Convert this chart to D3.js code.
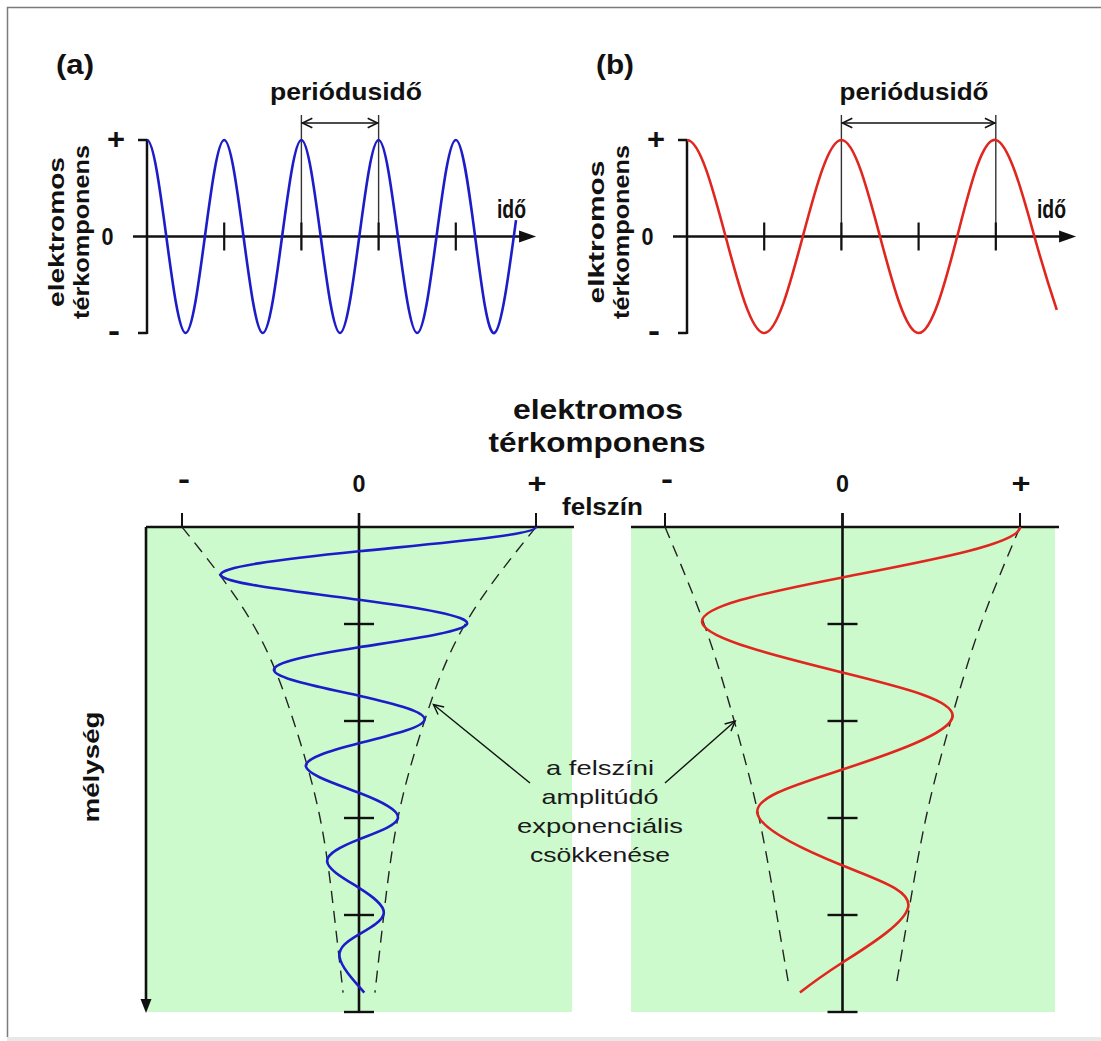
<!DOCTYPE html>
<html>
<head>
<meta charset="utf-8">
<script src="https://cdn.jsdelivr.net/npm/d3@7"></script>
<style>
  body { margin: 0; background: #fff; }
  svg { display: block; }
</style>
</head>
<body>
<div id="chart"></div>
<script>
// ---- top panels: field vs. time (time in tick units, field from -1 to +1)
const timeTicks = [1, 2, 3, 4];
const fieldLevels = [1, 0, -1];
const fieldLabels = ["+", "0", "-"];

const timeA = [0, 0.25, 0.5, 0.75, 1, 1.25, 1.5, 1.75, 2, 2.25, 2.5, 2.75, 3, 3.25, 3.5, 3.75, 4, 4.25, 4.5, 4.78];
const fieldA = [1, 0, -1, 0, 1, 0, -1, 0, 1, 0, -1, 0, 1, 0, -1, 0, 1, 0, -1, 0.17];
const periodA = [2, 3];

const timeB = [0, 0.5, 1, 1.5, 2, 2.5, 3, 3.5, 4, 4.5, 4.79];
const fieldB = [1, 0, -1, 0, 1, 0, -1, 0, 1, 0, -0.76];
const periodB = [2, 4];

// ---- bottom panels: field vs. depth (depth in tick units)
const depthTicks = [1, 2, 3, 4, 5];
const ampLevels = [-1, 0, 1];
const ampLabels = ["-", "0", "+"];

const depthBlue = [0, 0.25, 0.5, 0.75, 1.0, 1.24, 1.48, 1.74, 1.99, 2.23, 2.47, 2.74, 3.0, 3.22, 3.45, 3.72, 3.98, 4.2, 4.43, 4.8];
const fieldBlue = [1, 0, -0.78, 0, 0.61, 0, -0.48, 0, 0.37, 0, -0.30, 0, 0.22, 0, -0.18, 0, 0.14, 0, -0.11, 0.03];
const envDepthBlue = [0, 1, 2, 3, 4, 4.8];
const envBlue = [1, 0.6, 0.37, 0.22, 0.14, 0.09];

const depthRed = [0, 0.52, 0.99, 1.5, 1.96, 2.5, 2.95, 3.49, 3.92, 4.49, 4.8];
const fieldRed = [1, 0, -0.79, 0, 0.62, 0, -0.48, 0, 0.37, 0, -0.24];
const envDepthRed = [0, 1, 2, 3, 4, 4.75];
const envRed = [1, 0.78, 0.61, 0.47, 0.37, 0.3];

const noteLines = ["a felszíni", "amplitúdó", "exponenciális", "csökkenése"];

const W = 1101, H = 1041;
const BLUE = "#1c1cc8", RED = "#e0261f", GREEN = "#cdfacd", INK = "#111";

const svg = d3.select("#chart").append("svg")
    .attr("width", W)
    .attr("height", H)
    .style("font-family", "Arial, 'Liberation Sans', sans-serif");

svg.append("rect").attr("width", W).attr("height", H).attr("fill", "#fff");

// frame of the original picture
svg.append("path")
    .attr("d", `M7.5,${H - 4} V7.5 H${W}`)
    .attr("fill", "none")
    .attr("stroke", "#7a7a7a")
    .attr("stroke-width", 1.5);
svg.append("rect")
    .attr("x", 7).attr("y", 1037)
    .attr("width", W - 7).attr("height", 4)
    .attr("fill", "#e8e8e8");

// spline slopes (parametrised by index); "flat" forces a zero slope at the first point
function splineSlopes(v, flat) {
    const n = v.length;
    const a = new Array(n).fill(1), b = new Array(n).fill(4), c = new Array(n).fill(1), r = new Array(n);
    for (let i = 1; i < n - 1; i++) r[i] = 3 * (v[i + 1] - v[i - 1]);
    if (flat) { b[0] = 1; c[0] = 0; r[0] = 0; }
    else { b[0] = 2; c[0] = 1; r[0] = 3 * (v[1] - v[0]); }
    b[n - 1] = 2; r[n - 1] = 3 * (v[n - 1] - v[n - 2]);
    for (let i = 1; i < n; i++) {
        const w = a[i] / b[i - 1];
        b[i] -= w * c[i - 1];
        r[i] -= w * r[i - 1];
    }
    const m = new Array(n);
    m[n - 1] = r[n - 1] / b[n - 1];
    for (let i = n - 2; i >= 0; i--) m[i] = (r[i] - c[i] * m[i + 1]) / b[i];
    return m;
}

// natural spline curve whose value coordinate starts at a crest (flat tangent)
function crestStart(flatAxis) {
    return function(context) {
        let xs, ys;
        return {
            areaStart() {}, areaEnd() {},
            lineStart() { xs = []; ys = []; },
            point(x, y) { xs.push(+x); ys.push(+y); },
            lineEnd() {
                const n = xs.length;
                const mx = splineSlopes(xs, flatAxis === "x");
                const my = splineSlopes(ys, flatAxis === "y");
                context.moveTo(xs[0], ys[0]);
                for (let i = 0; i < n - 1; i++) {
                    context.bezierCurveTo(
                        xs[i] + mx[i] / 3, ys[i] + my[i] / 3,
                        xs[i + 1] - mx[i + 1] / 3, ys[i + 1] - my[i + 1] / 3,
                        xs[i + 1], ys[i + 1]);
                }
            }
        };
    };
}

function addText(g, str, x, y, size, len, opts = {}) {
    const t = g.append("text")
        .attr("x", x)
        .attr("y", y)
        .attr("font-size", size)
        .attr("font-weight", opts.weight || "bold")
        .attr("text-anchor", opts.anchor || "middle")
        .attr("fill", opts.fill || INK)
        .text(str);
    if (len) t.attr("textLength", len).attr("lengthAdjust", "spacingAndGlyphs");
    if (opts.rotate) t.attr("transform", `rotate(-90,${x},${y})`);
    return t;
}

function seg(g, x1, y1, x2, y2, w, color) {
    return g.append("line")
        .attr("x1", x1).attr("y1", y1)
        .attr("x2", x2).attr("y2", y2)
        .attr("stroke", color || INK)
        .attr("stroke-width", w);
}

// open "V" arrow head at (tx,ty), coming from (fx,fy)
function openHead(g, fx, fy, tx, ty, len, w) {
    const a = Math.atan2(ty - fy, tx - fx);
    const spread = 0.45;
    const p = [a - Math.PI + spread, a - Math.PI - spread].map(b => [tx + len * Math.cos(b), ty + len * Math.sin(b)]);
    g.append("path")
        .attr("d", `M${p[0][0]},${p[0][1]} L${tx},${ty} L${p[1][0]},${p[1][1]}`)
        .attr("fill", "none")
        .attr("stroke", INK)
        .attr("stroke-width", w);
}

// filled arrow head, dir: "right" or "down"
function filledHead(g, tx, ty, dir, len, half) {
    const pts = dir === "right"
        ? [[tx, ty], [tx - len, ty - half], [tx - len, ty + half]]
        : [[tx, ty], [tx - half, ty - len], [tx + half, ty - len]];
    g.append("polygon")
        .attr("points", pts.map(p => p.join(",")).join(" "))
        .attr("fill", INK);
}

function timePanel(opt) {
    const g = svg.append("g");
    const x = d3.scaleLinear().domain([0, 5]).range([opt.x0, opt.x0 + 386]);
    const y = d3.scaleLinear().domain([-1, 1]).range([333, 140]);
    const ax = x(0);

    // period markers
    opt.period.forEach(t => seg(g, x(t), 115, x(t), y(0) + 13, 1.4, "#333"));
    seg(g, x(opt.period[0]) + 1, 123, x(opt.period[1]) - 1, 123, 1.5);
    openHead(g, x(opt.period[1]), 123, x(opt.period[0]) + 1, 123, 11, 1.5);
    openHead(g, x(opt.period[0]), 123, x(opt.period[1]) - 1, 123, 11, 1.5);

    // field axis
    seg(g, ax, y(1) - 1, ax, y(-1) + 1, 2.5);
    [1, -1].forEach(v => seg(g, ax - 9, y(v), ax, y(v), 2.5));

    // time axis
    const xEnd = x(5.04);
    seg(g, ax - 14, y(0), xEnd - 8, y(0), 2.6);
    filledHead(g, xEnd, y(0), "right", 17, 6);
    timeTicks.forEach(t => seg(g, x(t), y(0) - 14, x(t), y(0) + 14, 2.2));

    // wave
    const line = d3.line()
        .x((d, i) => x(opt.time[i]))
        .y(d => y(d))
        .curve(crestStart("y"));
    g.append("path")
        .attr("d", line(opt.field))
        .attr("fill", "none")
        .attr("stroke", opt.color)
        .attr("stroke-width", 2.6);

    // labels
    addText(g, opt.tag, ax - 91, 74, 27, 38, { anchor: "start" });
    addText(g, "periódusidő", opt.periodLabelX, 100, 24, opt.periodLabelLen);
    addText(g, "idő", ax + 350, 218, 25, 29, { anchor: "start" });
    addText(g, opt.yLabel[0], ax - 83, 232, 22, opt.yLabelLen[0], { rotate: true });
    addText(g, opt.yLabel[1], ax - 58, 232, 22, opt.yLabelLen[1], { rotate: true });

    const lab = [
        { dx: -31, dy: 9, size: 29, len: 18 },
        { dx: -39.5, dy: 8, size: 23, len: 12 },
        { dx: -33, dy: 8, size: 32, len: 12 }
    ];
    fieldLevels.forEach((v, i) => {
        addText(g, fieldLabels[i], ax + lab[i].dx, y(v) + lab[i].dy, lab[i].size, lab[i].len);
    });
}

function depthPanel(opt) {
    const g = svg.append("g");
    const x = d3.scaleLinear().domain([-1, 1]).range(opt.ampRange);
    const y = d3.scaleLinear().domain([0, 5]).range([527, 1012]);
    const zx = x(0);

    g.append("rect")
        .attr("x", opt.left).attr("y", y(0))
        .attr("width", opt.right - opt.left)
        .attr("height", y(5) - y(0))
        .attr("fill", GREEN);

    // surface line and amplitude ticks
    seg(g, opt.left, y(0), opt.lineRight, y(0), 2.6);
    ampLevels.forEach(v => seg(g, x(v), y(0) - 14, x(v), y(0), 2));

    // zero axis with depth ticks
    seg(g, zx, y(0) - 14, zx, y(5), 2.6);
    depthTicks.forEach(d => seg(g, zx - 15, y(d), zx + 15, y(d), 2.4));

    // exponential envelope
    [1, -1].forEach(s => {
        const env = d3.line()
            .x(d => x(s * d))
            .y((d, i) => y(opt.envDepth[i]))
            .curve(d3.curveNatural);
        g.append("path")
            .attr("d", env(opt.env))
            .attr("fill", "none")
            .attr("stroke", "#222")
            .attr("stroke-width", 1.4)
            .attr("stroke-dasharray", "12,8");
    });

    // wave
    const wave = d3.line()
        .x(d => x(d))
        .y((d, i) => y(opt.depth[i]))
        .curve(crestStart("x"));
    g.append("path")
        .attr("d", wave(opt.field))
        .attr("fill", "none")
        .attr("stroke", opt.color)
        .attr("stroke-width", 2.6);

    // amplitude labels
    const lab = [
        { dx: 2, base: 489, size: 30, len: 12 },
        { dx: 0, base: 492, size: 24, len: 13 },
        { dx: 1, base: 493, size: 28, len: 19 }
    ];
    ampLevels.forEach((v, i) => {
        addText(g, ampLabels[i], x(v) + lab[i].dx, lab[i].base, lab[i].size, lab[i].len);
    });

    if (opt.depthAxis) {
        seg(g, opt.left, y(0), opt.left, y(5) - 10, 2.6);
        filledHead(g, opt.left, y(5) + 1, "down", 14, 5.5);
    }

    return { x, y };
}

timePanel({
    x0: 147, time: timeA, field: fieldA, period: periodA, color: BLUE,
    tag: "(a)", periodLabelX: 346, periodLabelLen: 152,
    yLabel: ["elektromos", "térkomponens"], yLabelLen: [150, 174]
});
timePanel({
    x0: 687, time: timeB, field: fieldB, period: periodB, color: RED,
    tag: "(b)", periodLabelX: 914, periodLabelLen: 149,
    yLabel: ["elktromos", "térkomponens"], yLabelLen: [143, 174]
});

const left = depthPanel({
    ampRange: [182, 536], left: 146, right: 572, lineRight: 574,
    depth: depthBlue, field: fieldBlue, envDepth: envDepthBlue, env: envBlue,
    color: BLUE, depthAxis: true
});
const right = depthPanel({
    ampRange: [665, 1020], left: 631, right: 1055, lineRight: 1059,
    depth: depthRed, field: fieldRed, envDepth: envDepthRed, env: envRed,
    color: RED, depthAxis: false
});

// common labels of the lower part
const lab = svg.append("g");
addText(lab, "elektromos", 598, 419, 27, 170);
addText(lab, "térkomponens", 597, 452, 27, 217);
addText(lab, "felszín", 602.5, 515, 23, 81);
addText(lab, "mélység", 99, 767, 22, 111, { rotate: true });

const noteLen = [108, 117, 166, 140];
noteLines.forEach((s, i) => {
    addText(lab, s, 600, 775 + i * 29, 21, noteLen[i], { weight: "normal", fill: "#1a1a1a" });
});

// annotation arrows to the envelopes
const envAtBlue = d3.scaleLinear().domain(envDepthBlue).range(envBlue);
const envAtRed = d3.scaleLinear().domain(envDepthRed).range(envRed);
const tipL = [left.x(envAtBlue(1.83)) + 2, left.y(1.83)];
const tipR = [right.x(-envAtRed(2.0)) + 1, right.y(2.0)];
seg(lab, 530, 783, tipL[0], tipL[1], 1.4);
openHead(lab, 530, 783, tipL[0], tipL[1], 11, 1.4);
seg(lab, 665, 783, tipR[0], tipR[1], 1.4);
openHead(lab, 665, 783, tipR[0], tipR[1], 11, 1.4);
</script>
</body>
</html>
